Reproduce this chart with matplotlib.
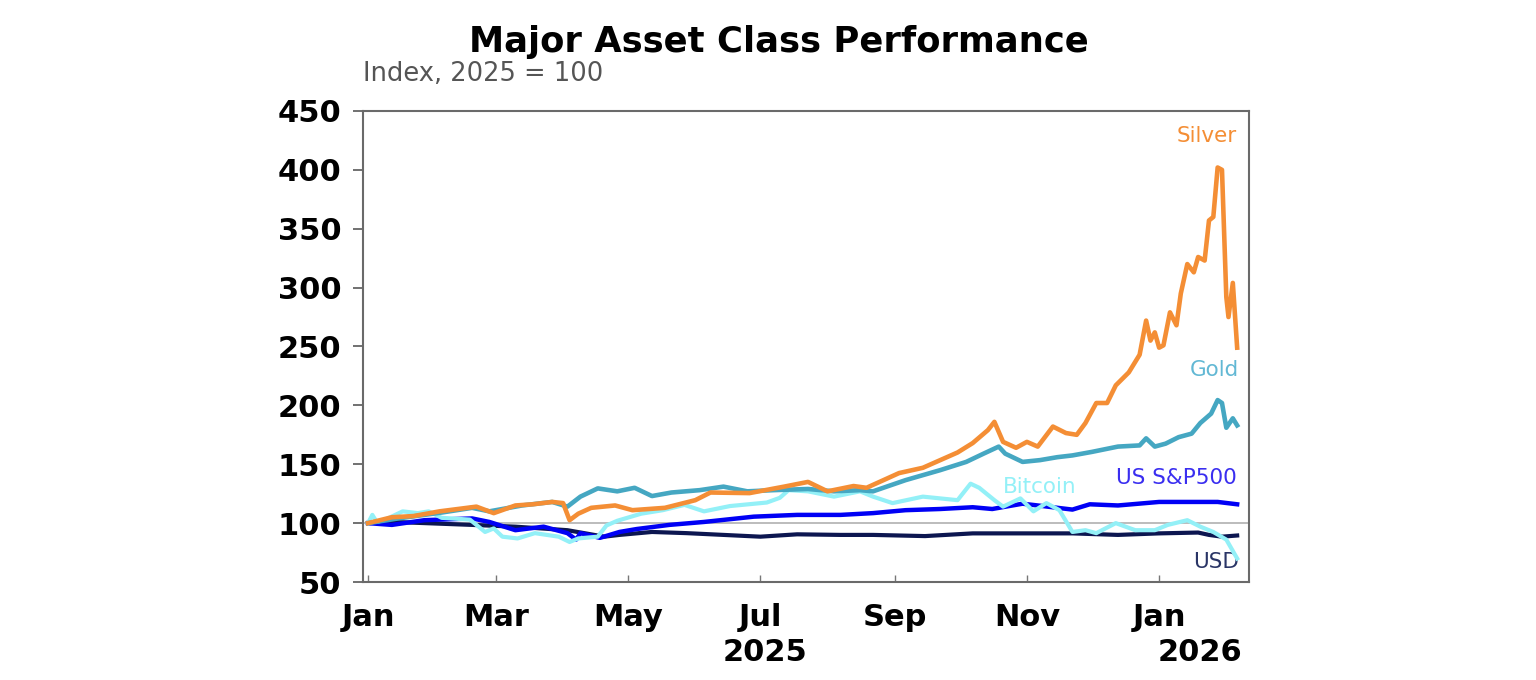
import matplotlib
matplotlib.use("Agg")
import matplotlib.pyplot as plt
import pandas as pd

plt.rcParams['font.family'] = ['DejaVu Sans']

# values, index 2025 = 100
silver_dates = ["2025-01-01", "2025-01-12", "2025-01-22", "2025-02-03", "2025-02-20", "2025-02-28",
                "2025-03-10", "2025-03-18", "2025-03-27", "2025-04-01", "2025-04-04", "2025-04-08",
                "2025-04-14", "2025-04-25", "2025-05-03", "2025-05-18", "2025-06-01", "2025-06-08",
                "2025-06-26", "2025-07-12", "2025-07-23", "2025-08-01", "2025-08-13", "2025-08-19",
                "2025-09-03", "2025-09-14", "2025-09-22", "2025-09-30", "2025-10-07", "2025-10-14",
                "2025-10-17", "2025-10-21", "2025-10-27", "2025-11-01", "2025-11-06", "2025-11-13",
                "2025-11-19", "2025-11-24", "2025-11-28", "2025-12-03", "2025-12-08", "2025-12-12",
                "2025-12-18", "2025-12-23", "2025-12-26", "2025-12-28", "2025-12-30", "2026-01-01",
                "2026-01-03", "2026-01-06", "2026-01-09", "2026-01-11", "2026-01-14", "2026-01-17",
                "2026-01-19", "2026-01-22", "2026-01-24", "2026-01-26", "2026-01-28", "2026-01-30",
                "2026-02-01", "2026-02-02", "2026-02-04", "2026-02-06"]
silver = [100, 105, 106, 110, 114, 108.5,
          115, 116, 118, 117, 102.5, 108,
          113, 115, 111, 113, 119.5, 126,
          125.5, 131, 135, 127, 131.5, 130,
          142.5, 147, 153.5, 160, 168, 179,
          186, 169, 164, 169, 165, 182,
          176.5, 175, 185, 202, 202, 217,
          228, 243, 272, 255, 262, 249,
          251, 279, 268, 295, 320, 313,
          326, 323, 357, 360, 402, 400,
          292, 275, 304, 249]

gold_dates = ["2025-01-01", "2025-01-15", "2025-02-04", "2025-02-18", "2025-02-26", "2025-03-13",
              "2025-03-27", "2025-04-03", "2025-04-09", "2025-04-17", "2025-04-26", "2025-05-04",
              "2025-05-12", "2025-05-21", "2025-06-03", "2025-06-14", "2025-06-25", "2025-07-07",
              "2025-07-23", "2025-08-04", "2025-08-16", "2025-08-22", "2025-09-06", "2025-09-22",
              "2025-10-04", "2025-10-12", "2025-10-19", "2025-10-22", "2025-10-30", "2025-11-07",
              "2025-11-15", "2025-11-22", "2025-12-01", "2025-12-13", "2025-12-23", "2025-12-26",
              "2025-12-30", "2026-01-04", "2026-01-10", "2026-01-16", "2026-01-20", "2026-01-25",
              "2026-01-28", "2026-01-30", "2026-02-01", "2026-02-04", "2026-02-06"]
gold = [100, 104, 109, 113, 110, 115,
        118, 114, 122.5, 129.5, 127, 130,
        123, 126, 128, 131, 127, 128,
        129, 127, 128, 127, 136.5, 145,
        152, 159, 165, 159, 152, 153.5,
        156, 157.5, 160.5, 165, 166, 172,
        165, 167.5, 173, 176, 185, 193,
        204.5, 202, 181, 189, 183]

spx_dates = ["2025-01-01", "2025-01-12", "2025-01-27", "2025-02-18", "2025-02-26", "2025-03-10",
             "2025-03-23", "2025-04-03", "2025-04-07", "2025-04-09", "2025-04-18", "2025-04-27",
             "2025-05-05", "2025-05-20", "2025-06-05", "2025-06-28", "2025-07-18", "2025-08-07",
             "2025-08-22", "2025-09-06", "2025-09-22", "2025-10-07", "2025-10-16", "2025-10-30",
             "2025-11-06", "2025-11-22", "2025-11-30", "2025-12-13", "2026-01-01", "2026-01-16",
             "2026-01-28", "2026-02-06"]
spx = [100, 98.5, 102.5, 104, 101, 94,
       97, 91.5, 86, 91.5, 87.5, 92.5,
       95, 98.5, 101, 105.5, 107, 107,
       108.5, 111, 112, 113.5, 112, 116.5,
       115, 111.5, 116, 115, 118, 118,
       118, 116]

btc_dates = ["2025-01-01", "2025-01-03", "2025-01-05", "2025-01-09", "2025-01-17", "2025-01-24",
             "2025-01-29", "2025-02-04", "2025-02-17", "2025-02-24", "2025-02-28", "2025-03-04",
             "2025-03-11", "2025-03-19", "2025-03-30", "2025-04-04", "2025-04-08", "2025-04-17",
             "2025-04-21", "2025-04-26", "2025-05-07", "2025-05-17", "2025-05-27", "2025-06-05",
             "2025-06-17", "2025-07-04", "2025-07-10", "2025-07-14", "2025-07-23", "2025-08-04",
             "2025-08-16", "2025-08-22", "2025-08-31", "2025-09-14", "2025-09-22", "2025-09-30",
             "2025-10-06", "2025-10-10", "2025-10-17", "2025-10-21", "2025-10-29", "2025-11-04",
             "2025-11-10", "2025-11-16", "2025-11-22", "2025-11-28", "2025-12-03", "2025-12-12",
             "2025-12-21", "2025-12-30", "2026-01-05", "2026-01-14", "2026-01-20", "2026-01-26",
             "2026-02-01", "2026-02-06"]
btc = [100, 107, 101, 103, 110, 108.5,
       110, 104.5, 103, 92.5, 95.5, 88.5,
       87, 91.5, 88.5, 84, 87, 88.5,
       98, 102, 108, 111, 115.5, 110,
       114.5, 117.5, 121.5, 128, 127, 122.5,
       127, 122.5, 117, 122.5, 121, 119.5,
       133.5, 130, 119.5, 114, 121, 110,
       117, 111, 92.5, 94, 91.5, 100,
       94, 94, 98.5, 102.5, 97, 92.5,
       86, 70]

usd_dates = ["2025-01-01", "2025-01-13", "2025-02-18", "2025-03-10", "2025-04-03", "2025-04-20",
             "2025-04-27", "2025-05-12", "2025-05-28", "2025-06-14", "2025-07-01", "2025-07-18",
             "2025-08-07", "2025-08-22", "2025-09-15", "2025-10-07", "2025-10-30", "2025-11-22",
             "2025-12-13", "2026-01-01", "2026-01-19", "2026-01-24", "2026-01-30", "2026-02-06"]
usd = [100, 101, 98.5, 97, 94, 88.5,
       90, 92.5, 91.5, 90, 88.5, 90.5,
       90, 90, 89, 91.3, 91.3, 91.3,
       90, 91.3, 92, 90, 88.5, 89.5]

month_ticks = ["2025-01-01", "2025-03-01", "2025-05-01", "2025-07-01", "2025-09-01", "2025-11-01", "2026-01-01"]
month_labels = ["Jan", "Mar", "May", "Jul", "Sep", "Nov", "Jan"]
y_ticks = [50, 100, 150, 200, 250, 300, 350, 400, 450]

c_silver = "#F48E35"
c_gold = "#45A7C2"
c_spx = "#0000F5"
c_btc = "#93F0F7"
c_usd = "#0C1650"

fig = plt.figure(figsize=(15.36, 6.8), dpi=100)
ax = fig.add_axes([0.2363, 0.1441, 0.5769, 0.6927])

ax.axhline(100, color="#B0B0B0", lw=1.2, zorder=1)
ax.plot(pd.to_datetime(usd_dates), usd, color=c_usd, lw=3, zorder=3)
ax.plot(pd.to_datetime(btc_dates), btc, color=c_btc, lw=3, zorder=4)
ax.plot(pd.to_datetime(spx_dates), spx, color=c_spx, lw=3.2, zorder=3)
ax.plot(pd.to_datetime(gold_dates), gold, color=c_gold, lw=3.3, zorder=5)
ax.plot(pd.to_datetime(silver_dates), silver, color=c_silver, lw=3.3, zorder=6)

ax.set_xlim(pd.Timestamp("2024-12-29 16:00"), pd.Timestamp("2026-02-11 12:00"))
ax.set_ylim(50, 450)
ax.set_yticks(y_ticks)
ax.set_yticklabels([str(v) for v in y_ticks], fontsize=22, fontweight="bold")
ax.set_xticks(pd.to_datetime(month_ticks))
ax.set_xticklabels(month_labels, fontsize=22, fontweight="bold")
ax.tick_params(axis="y", direction="out", length=7.5, width=1.3, color="#666666", pad=8)
ax.tick_params(axis="x", direction="in", length=5, width=1, color="#777777", pad=15)
for s in ax.spines.values():
    s.set_color("#6A6A6A")
    s.set_linewidth(1.5)

# year labels under the month ticks
trans = ax.get_xaxis_transform()
ax.text(pd.Timestamp("2025-07-03"), -0.118, "2025", transform=trans, ha="center", va="top",
        fontsize=22, fontweight="bold")
ax.text(pd.Timestamp("2026-01-20"), -0.118, "2026", transform=trans, ha="center", va="top",
        fontsize=22, fontweight="bold")

# series labels
ax.text(pd.Timestamp("2026-02-06"), 429, "Silver", color=c_silver, fontsize=15.5, ha="right", va="center")
ax.text(pd.Timestamp("2026-02-07"), 230, "Gold", color="#62B8D4", fontsize=15.5, ha="right", va="center")
ax.text(pd.Timestamp("2026-02-06"), 138, "US S&P500", color="#3A2EF0", fontsize=15.5, ha="right", va="center")
ax.text(pd.Timestamp("2025-11-07"), 131, "Bitcoin", color=c_btc, fontsize=15.5, ha="center", va="center")
ax.text(pd.Timestamp("2026-02-07"), 67, "USD", color="#2A3566", fontsize=15.5, ha="right", va="center")

fig.text(0.507, 0.938, "Major Asset Class Performance", ha="center", va="center",
         fontsize=25.5, fontweight="bold")
fig.text(0.2363, 0.891, "Index, 2025 = 100", ha="left", va="center", fontsize=18.5, color="#555555")

fig.savefig("out.png", dpi=100)
